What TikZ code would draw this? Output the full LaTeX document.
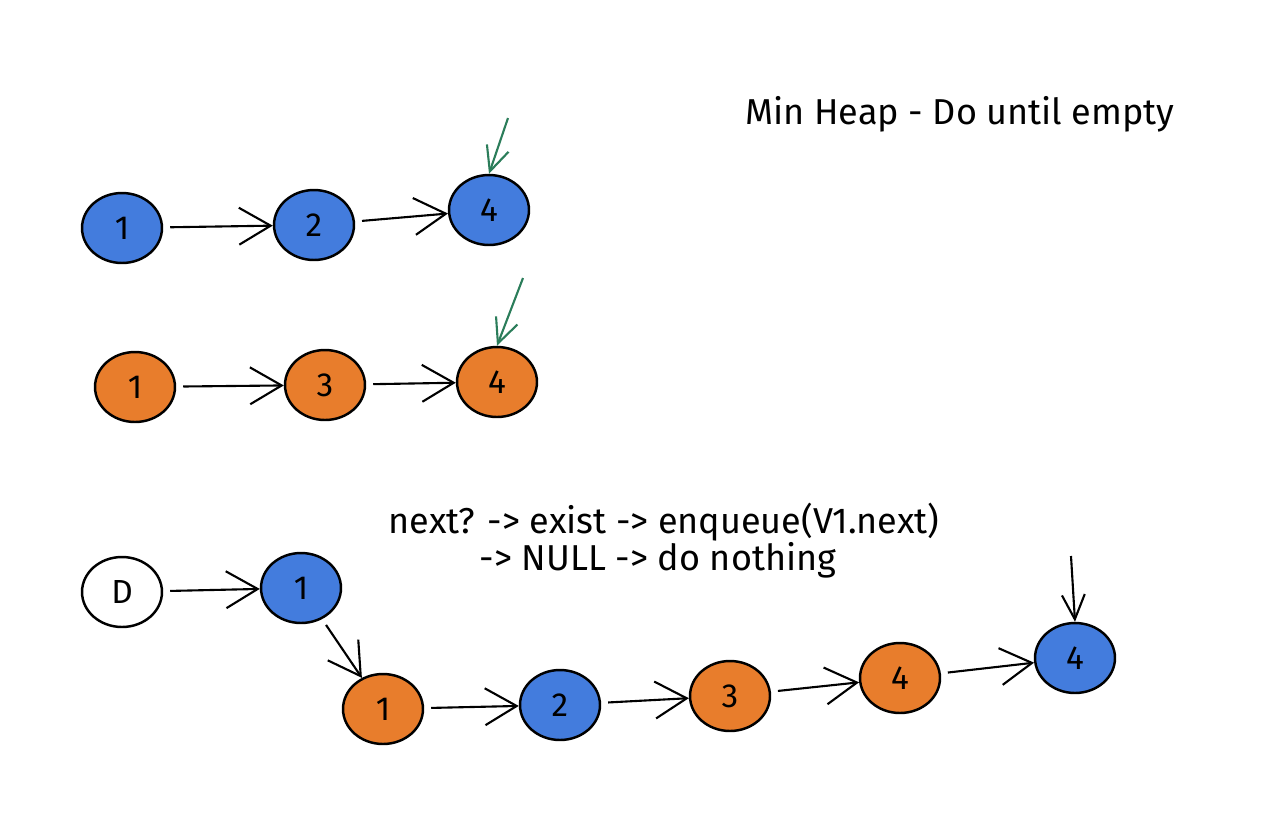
\documentclass[tikz,border=0pt]{standalone}
\usepackage{fontspec}
\setmainfont{Fira Sans}
\usepackage{xcolor}
\usepackage{tikz}
\usetikzlibrary{arrows.meta, shapes.geometric}

\definecolor{heapblue}{RGB}{67,124,221}
\definecolor{heaporange}{RGB}{232,125,44}
\definecolor{markgreen}{RGB}{43,125,90}

\begin{document}
\begin{tikzpicture}[
            x=0.02cm, y=-0.02cm,
            item/.style={draw, line width=1.4pt, ellipse, minimum width=1.6cm, minimum height=1.4cm, font=\fontsize{19}{22}\selectfont},
            bluenode/.style={item, fill=heapblue},
            orangenode/.style={item, fill=heaporange},
            plainnode/.style={item, fill=white},
            link/.style={-{Straight Barb[length=18pt,width=21pt]}, line width=1.2pt, shorten <=4pt},
            pointer/.style={-{Straight Barb[length=14pt,width=13pt]}, line width=1.2pt, markgreen},
            note/.style={font=\fontsize{20.5}{26}\selectfont, align=center}
        ]
            \useasboundingbox (0,0) rectangle (1282,826);

            % first list
            \node[bluenode] (a1) at (122,228) {1};
            \node[bluenode] (a2) at (314,225) {2};
            \node[bluenode] (a4) at (489,210) {4};
            \draw[link] (a1) -- (a2);
            \draw[link] (a2) -- (a4);
            \coordinate (ap) at (508,118);
            \draw[pointer] (ap) -- (a4.north);

            % second list
            \node[orangenode] (b1) at (135,387) {1};
            \node[orangenode] (b3) at (325,385) {3};
            \node[orangenode] (b4) at (497,382) {4};
            \draw[link] (b1) -- (b3);
            \draw[link] (b3) -- (b4);
            \coordinate (bp) at (523,278);
            \draw[pointer] (bp) -- (b4.north);

            \node[note] (title) at (960,114) {Min Heap - Do until empty};
            \node[note] (rule1) at (664,522) {next? -> exist -> enqueue(V1.next)};
            \node[note] (rule2) at (658,560) {-> NULL -> do nothing};

            % merged list
            \node[plainnode] (d) at (122,592) {D};
            \node[bluenode] (c1) at (301,588) {1};
            \node[orangenode] (c2) at (383,709) {1};
            \node[bluenode] (c3) at (560,705) {2};
            \node[orangenode] (c4) at (730,696) {3};
            \node[orangenode] (c5) at (900,678) {4};
            \node[bluenode] (c6) at (1075,658) {4};
            \draw[link] (d) -- (c1);
            \draw[link] (c1) -- (c2);
            \draw[link] (c2) -- (c3);
            \draw[link] (c3) -- (c4);
            \draw[link] (c4) -- (c5);
            \draw[link] (c5) -- (c6);
            \coordinate (cp) at (1071,556);
            \draw[pointer, black] (cp) -- (c6.north);
        \end{tikzpicture}
\end{document}
